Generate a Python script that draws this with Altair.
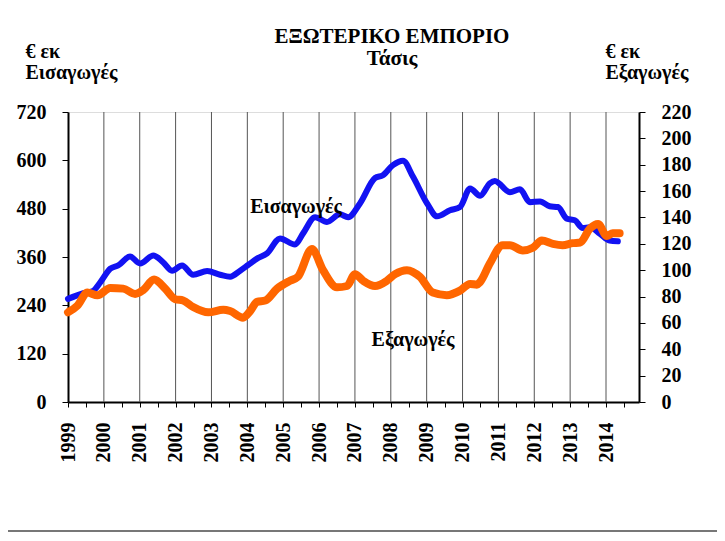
import altair as alt
import pandas as pd

# ---- data ----
imp_year = [1999.00, 1999.43, 1999.70, 1999.90, 2000.18, 2000.40, 2000.73, 2001.01, 2001.38, 2001.65,
            2001.90, 2002.18, 2002.49, 2002.88, 2003.24, 2003.52, 2003.80, 2004.02, 2004.27, 2004.55,
            2004.91, 2005.33, 2005.55, 2005.89, 2006.22, 2006.58, 2006.81, 2007.14, 2007.56, 2007.78,
            2008.06, 2008.34, 2008.62, 2009.01, 2009.29, 2009.65, 2009.93, 2010.21, 2010.49, 2010.76,
            2010.90, 2011.32, 2011.60, 2011.88, 2012.16, 2012.43, 2012.66, 2012.91, 2013.13, 2013.35,
            2013.55, 2013.83, 2014.10, 2014.33]
imp_val = [256, 270, 276, 297, 331, 339, 361, 344, 364, 347,
           326, 339, 316, 325, 316, 311, 326, 340, 356, 369,
           406, 391, 418, 459, 447, 466, 459, 493, 556, 563,
           588, 599, 559, 493, 461, 476, 484, 530, 512, 543,
           549, 521, 528, 496, 498, 486, 484, 455, 451, 432,
           434, 418, 401, 399]

exp_year = [1999.00, 1999.26, 1999.54, 1999.82, 2000.18, 2000.54, 2000.87, 2001.10, 2001.40, 2001.71,
            2001.99, 2002.21, 2002.49, 2002.91, 2003.33, 2003.52, 2003.88, 2004.08, 2004.27, 2004.50,
            2004.83, 2005.19, 2005.41, 2005.80, 2006.11, 2006.50, 2006.78, 2007.00, 2007.23, 2007.56,
            2007.89, 2008.12, 2008.45, 2008.81, 2009.17, 2009.56, 2009.93, 2010.21, 2010.40, 2010.49,
            2010.76, 2011.12, 2011.32, 2011.68, 2011.96, 2012.21, 2012.52, 2012.79, 2013.07, 2013.28,
            2013.55, 2013.78, 2014.02, 2014.19, 2014.38]
exp_val = [68, 73, 83, 81, 86.5, 86, 82, 85, 93, 86,
           78, 77, 72, 68, 70, 69, 64, 69, 76, 77,
           86, 92, 95, 116, 100, 87, 88, 97, 92, 88,
           92, 97, 100, 95, 83, 81, 84.5, 89.6, 89, 91,
           105, 119, 119, 115, 117, 122.5, 120, 119, 120.5, 121,
           131.5, 135, 126, 128, 128]

grid_years = list(range(2000, 2015))
tick_values = [1999 + 0.5 * i for i in range(32)]
left_ticks = [0, 120, 240, 360, 480, 600, 720]
right_ticks = [0, 20, 40, 60, 80, 100, 120, 140, 160, 180, 200, 220]

label_text = ["Εισαγωγές", "Εξαγωγές"]
label_year = [2005.36, 2008.62]
label_val = [484, 154]

title_lines = ["ΕΞΩΤΕΡΙΚΟ ΕΜΠΟΡΙΟ", "Τάσις"]
left_title = ["€ εκ", "Εισαγωγές"]
right_title = ["€ εκ", "Εξαγωγές"]

FONT = "Liberation Serif"
W, H = 571, 290

imp_df = pd.DataFrame({"year": imp_year, "value": imp_val})
exp_df = pd.DataFrame({"year": exp_year, "value": exp_val})
grid_df = pd.DataFrame({"year": grid_years})
lab_df = pd.DataFrame({"year": label_year, "value": label_val, "text": label_text})
one_df = pd.DataFrame({"k": [0]})

x_scale = alt.Scale(domain=[1999, 2014.92], nice=False, zero=False)
x_axis = alt.Axis(values=tick_values, grid=False, title=None,
                  labelExpr="datum.value % 1 === 0 ? '' + datum.value : ''",
                  labelAngle=-90, labelFont=FONT, labelFontSize=20, labelFontWeight="bold",
                  labelColor="black", labelPadding=15, tickSize=5, tickColor="black",
                  domainColor="black", domainWidth=2, labelOverlap=False, labelFlush=False)
X = alt.X("year:Q", scale=x_scale, axis=x_axis)

grid = alt.Chart(grid_df).mark_rule(color="#555555", strokeWidth=1).encode(x=X)

axis_common = dict(grid=False, titleAngle=0, titleAlign="left", titleBaseline="top",
                   titleY=-71, titleLineHeight=21,
                   titleFont=FONT, titleFontSize=20, titleFontWeight="bold", titleColor="black",
                   labelFont=FONT, labelFontSize=20, labelFontWeight="bold", labelColor="black",
                   labelPadding=16, tickSize=6, tickColor="black",
                   domainColor="black", domainWidth=2)

imports = alt.Chart(imp_df).mark_line(color="#1212f2", strokeWidth=6, interpolate="monotone",
                                      strokeCap="round", strokeJoin="round").encode(
    x=X,
    y=alt.Y("value:Q", scale=alt.Scale(domain=[0, 720], nice=False),
            axis=alt.Axis(orient="left", values=left_ticks, title=left_title, titleX=-43,
                          **axis_common)),
)

exports = alt.Chart(exp_df).mark_line(color="#ff6600", strokeWidth=8, interpolate="monotone",
                                      strokeCap="round", strokeJoin="round").encode(
    x=X,
    y=alt.Y("value:Q", scale=alt.Scale(domain=[0, 220], nice=False),
            axis=alt.Axis(orient="right", values=right_ticks, title=right_title, titleX=-34,
                          **axis_common)),
)

labels = alt.Chart(lab_df).mark_text(font=FONT, fontSize=20, fontWeight="bold", color="black").encode(
    x=X,
    y=alt.Y("value:Q", scale=alt.Scale(domain=[0, 720], nice=False), axis=None),
    text="text:N",
)

title = alt.Chart(one_df).mark_text(text=title_lines, font=FONT, fontSize=21, fontWeight="bold",
                                    color="black", lineHeight=22, baseline="top", align="center",
                                    clip=False).encode(
    x=alt.value(324), y=alt.value(-86)
)

bottom_line = alt.Chart(one_df).mark_rule(color="#777777", strokeWidth=2, clip=False).encode(
    x=alt.value(-62), x2=alt.value(W + 80), y=alt.value(419)
)

chart = alt.layer(grid, imports, exports, labels, title, bottom_line).resolve_scale(
    y="independent"
).properties(
    width=W, height=H,
    autosize=alt.AutoSizeParams(type="none"),
    padding={"left": 60, "top": 104, "right": 78, "bottom": 130},
).configure_view(
    fill="#d8e7f5", stroke="#8a8a8a", strokeWidth=2
).configure(background="white")

chart.save("out.html", embed_options={"renderer": "svg", "actions": False})
